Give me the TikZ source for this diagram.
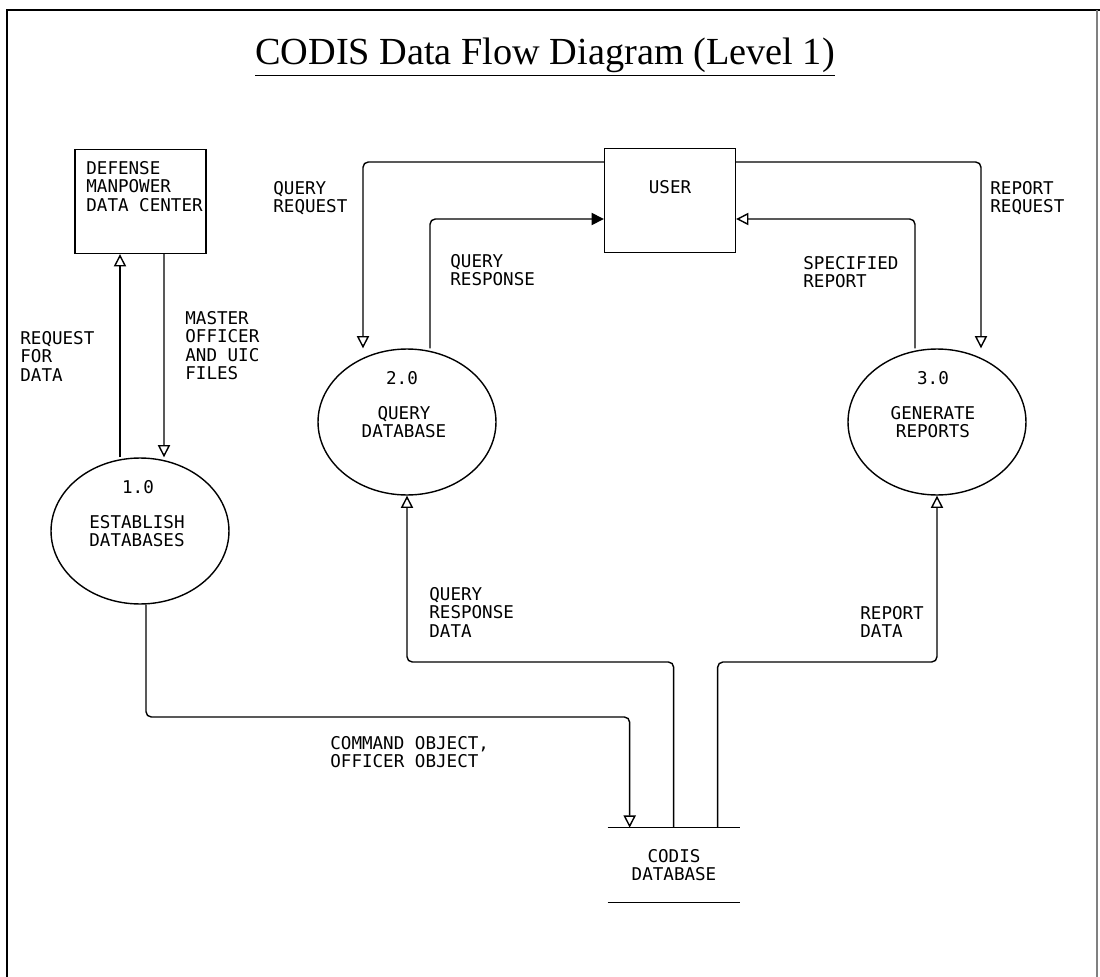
\documentclass[tikz,border=0pt]{standalone}
\usepackage{fontspec}
\setmainfont{Liberation Serif}
\newfontfamily\plotfont{DejaVu Sans Mono}
\usetikzlibrary{arrows.meta,calc,shapes.geometric}

\tikzset{
  flow/.style={draw, line width=0.8pt, rounded corners=3pt, -{Triangle[open,length=7pt,width=7pt]}},
  flowfill/.style={flow, -{Triangle[length=7pt,width=7pt]}},
  extbox/.style={draw, line width=0.8pt, minimum width=2.62cm, minimum height=2.08cm, inner sep=0pt},
  proc/.style={draw, ellipse, line width=0.8pt, minimum width=3.56cm, minimum height=2.92cm, inner sep=0pt},
  lbl/.style={font={\plotfont\fontsize{10}{10.5}\selectfont}, align=left, inner sep=0pt, anchor=north west},
  ctr/.style={font={\plotfont\fontsize{10}{10.5}\selectfont}, align=center, inner sep=0pt},
}

\begin{document}
\begin{tikzpicture}[x=0.02cm, y=-0.02cm]
  \useasboundingbox (0,0) rectangle (1100,977);
  % frame and title
  \draw[line width=1.6pt] (7,977) -- (7,10) -- (1100,10);
  \draw[line width=0.6pt, black!50] (1097,10) -- (1097,977);
  \node[font={\fontsize{21.8}{26}\selectfont}] (title) at (545,57) {\underline{CODIS Data Flow Diagram (Level 1)}};

  % external entities
  \node[extbox] (dmdc) at (140.5,201.5) {};
  \node[lbl] (dmdctxt) at (86,161) {DEFENSE\\MANPOWER\\DATA CENTER};
  \node[extbox] (user) at (670,200.5) {};
  \node[ctr] (usertxt) at (670,187) {USER};

  % processes
  \node[proc] (edb) at (140,531) {};
  \node[ctr] (edbnum) at ($(edb)+(-2,-44)$) {1.0};
  \node[ctr] (edbtxt) at ($(edb)+(-3,0)$) {ESTABLISH\\DATABASES};
  \node[proc] (qdb) at (407,422) {};
  \node[ctr] (qdbnum) at ($(qdb)+(-5,-44)$) {2.0};
  \node[ctr] (qdbtxt) at ($(qdb)+(-3,0)$) {QUERY\\DATABASE};
  \node[proc] (grp) at (937,422) {};
  \node[ctr] (grpnum) at ($(grp)+(-4,-44)$) {3.0};
  \node[ctr] (grptxt) at ($(grp)+(-4,0)$) {GENERATE\\REPORTS};

  % data store
  \node[ctr, minimum width=2.64cm, minimum height=1.48cm] (codis) at (674,865) {CODIS\\DATABASE};
  \draw[line width=0.8pt] (codis.north west) -- (codis.north east) (codis.south west) -- (codis.south east);

  \coordinate (toplvl) at (0,162);
  \coordinate (retlvl) at (0,219);
  \coordinate (datalvl) at (0,662);
  \coordinate (bus) at (0,717);
  \coordinate (cin) at ($(codis.north west)+(22,0)$);
  \coordinate (qout) at ($(codis.north west)+(66,0)$);
  \coordinate (rout) at ($(codis.north west)+(110,0)$);

  % flows
  \draw[flow] ($(edb.north)+(-20,0)$) -- ($(dmdc.south)+(-20.5,0)$);
  \draw[flow] ($(dmdc.south)+(23.5,0)$) -- ($(edb.north)+(24,0)$);
  \draw[flow] (user.west |- toplvl) -| ($(qdb.north)+(-44,0)$);
  \draw[flowfill] ($(qdb.north)+(23,0)$) |- (user.west |- retlvl);
  \draw[flow] (user.east |- toplvl) -| ($(grp.north)+(44,0)$);
  \draw[flow] ($(grp.north)+(-22,0)$) |- (user.east |- retlvl);
  \draw[flow] ($(edb.south)+(6,0)$) |- (cin |- bus) -- (cin);
  \draw[flow] (qout) |- (qdb.south |- datalvl) -- (qdb.south);
  \draw[flow] (rout) |- (grp.south |- datalvl) -- (grp.south);

  % flow labels
  \node[lbl] (qreq) at (273,181) {QUERY\\REQUEST};
  \node[lbl] (qresp) at (450,254) {QUERY\\RESPONSE};
  \node[lbl] (rreq) at (990,181) {REPORT\\REQUEST};
  \node[lbl] (sprep) at (803,256) {SPECIFIED\\REPORT};
  \node[lbl] (reqdata) at (20,331) {REQUEST\\FOR\\DATA};
  \node[lbl] (master) at (185,311) {MASTER\\OFFICER\\AND UIC\\FILES};
  \node[lbl] (qrdata) at (429,587) {QUERY\\RESPONSE\\DATA};
  \node[lbl] (rdata) at (860,606) {REPORT\\DATA};
  \node[lbl] (cmdobj) at (330,736) {COMMAND OBJECT,\\OFFICER OBJECT};
\end{tikzpicture}
\end{document}
